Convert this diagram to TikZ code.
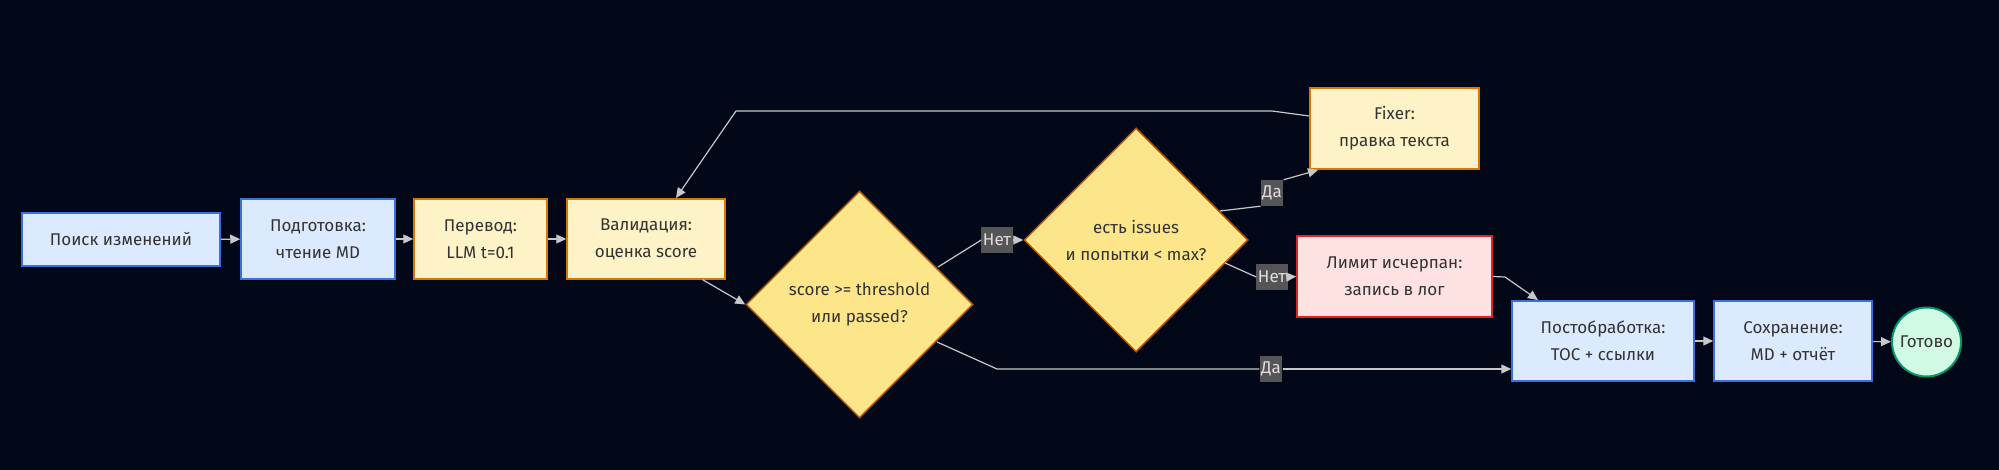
\documentclass[tikz,border=0pt]{standalone}
\usepackage{fontspec}
\setmainfont{Fira Sans}
\usepackage{tikz}
\usetikzlibrary{arrows.meta,shapes.geometric}

\definecolor{bgdark}{HTML}{020817}
\definecolor{txtdark}{HTML}{333333}
\definecolor{edgegray}{HTML}{C8C8C8}
\definecolor{lblbg}{HTML}{555555}
\definecolor{lbltxt}{HTML}{DDDDDD}
\definecolor{bluefill}{HTML}{DBEAFE}
\definecolor{bluedraw}{HTML}{3B6FE0}
\definecolor{yelfill}{HTML}{FEF3C7}
\definecolor{yeldraw}{HTML}{D97706}
\definecolor{decfill}{HTML}{FDE68A}
\definecolor{decdraw}{HTML}{B45309}
\definecolor{redfill}{HTML}{FEE2E2}
\definecolor{reddraw}{HTML}{DC2626}
\definecolor{grnfill}{HTML}{D1FAE5}
\definecolor{grndraw}{HTML}{059669}

\tikzset{
  box/.style={rectangle,line width=1.5pt,text=txtdark,align=center,
    font=\fontsize{17}{27}\selectfont,minimum height=80pt,inner sep=0pt},
  bluebox/.style={box,fill=bluefill,draw=bluedraw},
  yelbox/.style={box,fill=yelfill,draw=yeldraw},
  redbox/.style={box,fill=redfill,draw=reddraw},
  decision/.style={diamond,aspect=1,line width=1.5pt,fill=decfill,draw=decdraw,
    text=txtdark,align=center,font=\fontsize{17}{27}\selectfont,inner sep=0pt},
  endnode/.style={circle,line width=2pt,fill=grnfill,draw=grndraw,text=txtdark,
    font=\fontsize{17}{20}\selectfont,minimum size=69pt,inner sep=0pt},
  lbl/.style={fill=lblbg,text=lbltxt,font=\fontsize{17}{20}\selectfont,
    inner sep=1.5pt,minimum height=26pt},
  flow/.style={draw=edgegray,line width=1.2pt,-{Triangle[length=10pt,width=9pt]}},
}

\begin{document}
\begin{tikzpicture}[x=1pt,y=-1pt]

\fill[bgdark] (0,0) rectangle (1999,470);
\useasboundingbox (0,0) rectangle (1999,470);

% main line
\node[bluebox,minimum width=198pt,minimum height=53pt] (search) at (121,239.5) {Поиск изменений};
\node[bluebox,minimum width=154pt] (prep) at (318,239) {Подготовка:\\чтение MD};
\node[yelbox,minimum width=133pt] (transl) at (480.5,239) {Перевод:\\LLM t=0.1};
\node[yelbox,minimum width=158pt] (valid) at (646,239) {Валидация:\\оценка score};

% decisions
\node[decision,minimum size=227pt] (check) at (859.5,304.5) {score >= threshold\\или passed?};
\node[decision,minimum size=224pt] (retry) at (1136,240) {есть issues\\и попытки < max?};

\node[yelbox,minimum width=169pt,minimum height=81pt] (fixer) at (1394.5,128.5) {Fixer:\\правка текста};
\node[redbox,minimum width=195pt,minimum height=81pt] (limit) at (1394.5,276.5) {Лимит исчерпан:\\запись в лог};

% tail
\node[bluebox,minimum width=182pt] (post) at (1603,341) {Постобработка:\\TOC + ссылки};
\node[bluebox,minimum width=158pt] (save) at (1793,341) {Сохранение:\\MD + отчёт};
\node[endnode] (done) at (1926.5,342) {Готово};

% edge labels
\node[lbl] (no1) at (997,240) {Нет};
\node[lbl] (yes1) at (1272,193) {Да};
\node[lbl] (no2) at (1272,277) {Нет};
\node[lbl] (yes2) at (1271,369) {Да};

\coordinate (bk1) at (1272,111);
\coordinate (bk2) at (736,111);
\coordinate (yk) at (997,369);
\coordinate (lk) at (1505,277);

\draw[flow] (search) -- (prep);
\draw[flow] (prep) -- (transl);
\draw[flow] (transl) -- (valid);
\draw[flow] (valid.south east) ++(-23,0) -- (check.west);

\draw[draw=edgegray,line width=1.2pt] (938,267) -- (no1.west);
\draw[flow] (no1.east) -- (retry.west);

\draw[draw=edgegray,line width=1.2pt] (1220,211) -- (yes1.south west);
\draw[flow] (yes1.north east) -- (1318,170);

\draw[draw=edgegray,line width=1.2pt] (1225,263) -- (no2.west);
\draw[flow] (no2.east) -- (limit.west);

\draw[flow] (fixer.west |- 0,116) -- (bk1) -- (bk2) -- (676,198);

\draw[draw=edgegray,line width=1.2pt] (937,342) -- (yk) -- (yes2.west);
\draw[flow] (yes2.east) -- (post.west |- yes2);

\draw[flow] (limit.east) -- (lk) -- (1538,300);

\draw[flow] (post) -- (save);
\draw[flow] (save) -- (done);

\end{tikzpicture}
\end{document}
